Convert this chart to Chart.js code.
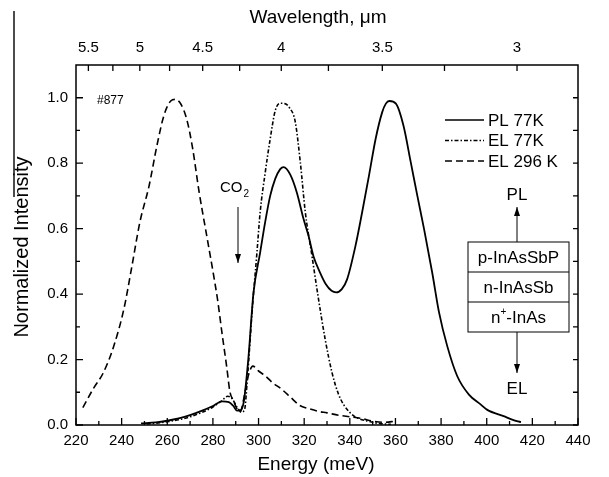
<!DOCTYPE html>
<html><head><meta charset="utf-8">
<script src="https://cdn.jsdelivr.net/npm/chart.js@4/dist/chart.umd.min.js"></script>
<style>html,body{margin:0;padding:0;background:#fff;}#wrap{width:609px;height:477px;position:relative;}</style>
</head><body><div id="wrap"><canvas id="c" width="609" height="477"></canvas></div>
<script>
// ---- data ----
const plEnergy = [248.5,255,260,265,270,275,280,284,287,289,290.5,292,293.5,295.5,297.8,300.7,302.9,305.1,307.3,309.5,311,313.9,316.8,319.7,321.9,324.1,327,329.5,332,334,336.5,338.8,342.5,345.4,348.4,351.3,354.2,355.8,357.3,360.2,363.5,366.7,369.6,372.5,376.1,379.1,382.7,387.1,392.2,397.3,400.1,407.4,413.2,415];
const plIntensity = [0.005,0.008,0.013,0.02,0.03,0.043,0.058,0.072,0.07,0.058,0.044,0.045,0.07,0.2,0.405,0.527,0.62,0.70,0.752,0.782,0.788,0.765,0.71,0.63,0.578,0.515,0.465,0.43,0.41,0.405,0.415,0.445,0.548,0.65,0.762,0.874,0.956,0.982,0.99,0.982,0.915,0.803,0.70,0.60,0.466,0.344,0.241,0.149,0.093,0.063,0.047,0.027,0.012,0.009];

const el77Energy = [251,255,260,265,270,275,280,284,286.5,288.5,290.5,292.5,293.8,295.2,297.1,299.3,300.7,302.9,305.1,307.3,309.5,311.5,313.5,316.1,318.3,320.5,323.4,326.3,329.2,332.2,335,337.5,341.9,347.8,353.5,358];
const el77Intensity = [0.003,0.005,0.01,0.016,0.025,0.038,0.055,0.075,0.088,0.08,0.055,0.04,0.045,0.15,0.34,0.527,0.65,0.77,0.874,0.96,0.983,0.982,0.97,0.926,0.803,0.65,0.517,0.384,0.262,0.16,0.095,0.06,0.027,0.012,0.004,0.002];

const el296Energy = [223,227.5,232,236.5,241,244.5,248,252,255.5,258.5,261.5,263.5,266,268.5,271,274,277.5,280,282,284,286,287.5,289,290.5,292,293.5,295.5,297.5,300,303,306,310,314,318,322,326,330,335,340,345,350,355,360];
const el296Intensity = [0.053,0.11,0.16,0.24,0.355,0.485,0.62,0.73,0.855,0.945,0.99,0.995,0.98,0.935,0.85,0.71,0.57,0.47,0.385,0.28,0.18,0.1,0.075,0.05,0.04,0.08,0.15,0.18,0.165,0.15,0.13,0.11,0.085,0.06,0.05,0.042,0.037,0.03,0.025,0.02,0.012,0.008,0.012];

const seriesNames = ['PL 77K','EL 77K','EL 296 K'];
const energyMajorTicks = [220,240,260,280,300,320,340,360,380,400,420,440];
const energyMinorTicks = [230,250,270,290,310,330,350,370,390,410,430];
const intensityMajorTicks = [0,0.2,0.4,0.6,0.8,1.0];
const intensityMinorTicks = [0.1,0.3,0.5,0.7,0.9];
const wavelengthMajorTicks = [5.5,5,4.5,4,3.5,3];
const wavelengthMajorLabels = ['5.5','5','4.5','4','3.5','3'];
const wavelengthMinorTicks = [5.25,4.75,4.25,3.75,3.25];
const layerNames = ['p-InAsSbP','n-InAsSb','InAs'];
const HC = 1239.84; // meV*um, converts wavelength to photon energy

const FONT = '"Liberation Sans", Arial, sans-serif';
const toPts = (xs, ys) => xs.map((x, i) => ({x: x, y: ys[i]}));
const styles = [
  {borderDash: [], borderWidth: 1.8},
  {borderDash: [4, 2, 1.5, 2], borderWidth: 1.6},
  {borderDash: [7, 4], borderWidth: 1.6}
];

const decor = {
  id: 'decor',
  afterDatasetsDraw(chart) {
    const ctx = chart.ctx;
    const a = chart.chartArea;
    const sx = chart.scales.x, sy = chart.scales.y, st = chart.scales.x2;
    ctx.save();
    ctx.strokeStyle = '#000';
    ctx.fillStyle = '#000';
    // frame
    ctx.lineWidth = 1.5;
    ctx.strokeRect(a.left, a.top, a.right - a.left, a.bottom - a.top);
    ctx.lineWidth = 1.3;
    ctx.beginPath();
    energyMajorTicks.forEach(v => { const p = sx.getPixelForValue(v); ctx.moveTo(p, a.bottom); ctx.lineTo(p, a.bottom - 7); });
    energyMinorTicks.forEach(v => { const p = sx.getPixelForValue(v); ctx.moveTo(p, a.bottom); ctx.lineTo(p, a.bottom - 4); });
    intensityMajorTicks.forEach(v => { const p = sy.getPixelForValue(v); ctx.moveTo(a.left, p); ctx.lineTo(a.left + 7, p); ctx.moveTo(a.right, p); ctx.lineTo(a.right - 5, p); });
    intensityMinorTicks.forEach(v => { const p = sy.getPixelForValue(v); ctx.moveTo(a.left, p); ctx.lineTo(a.left + 4, p); ctx.moveTo(a.right, p); ctx.lineTo(a.right - 5, p); });
    wavelengthMajorTicks.concat(wavelengthMinorTicks).forEach(l => { const p = st.getPixelForValue(HC / l); ctx.moveTo(p, a.top); ctx.lineTo(p, a.top + 6); });
    ctx.stroke();

    // legend
    ctx.font = '17px ' + FONT;
    ctx.textBaseline = 'middle';
    ctx.textAlign = 'left';
    chart.data.datasets.forEach((ds, i) => {
      const y = 120 + i * 20.5;
      ctx.save();
      ctx.lineWidth = 1.6;
      ctx.setLineDash(ds.borderDash || []);
      ctx.beginPath(); ctx.moveTo(445, y); ctx.lineTo(484, y); ctx.stroke();
      ctx.restore();
      ctx.fillText(ds.label, 488, y + 1);
    });

    // sample id
    ctx.font = '12px ' + FONT;
    ctx.fillText('#877', 97, 101);

    // CO2 label and arrow
    ctx.font = '15px ' + FONT;
    ctx.fillText('CO', 220, 188);
    const coW = ctx.measureText('CO').width;
    ctx.font = '10px ' + FONT;
    ctx.fillText('2', 220 + coW + 1, 194);
    const arrow = (x, y1, y2) => {
      ctx.lineWidth = 1;
      ctx.beginPath(); ctx.moveTo(x, y1); ctx.lineTo(x, y2); ctx.stroke();
      const d = y2 > y1 ? 1 : -1;
      ctx.beginPath(); ctx.moveTo(x, y2); ctx.lineTo(x - 3, y2 - d * 9); ctx.lineTo(x + 3, y2 - d * 9); ctx.closePath(); ctx.fill();
    };
    arrow(238, 207, 263);

    // layer stack inset
    const bx = 468, bw = 101, by = 242, rh = 30;
    ctx.lineWidth = 1;
    ctx.fillStyle = '#fff';
    ctx.fillRect(bx, by, bw, rh * 3);
    ctx.fillStyle = '#000';
    ctx.strokeRect(bx, by, bw, rh * 3);
    ctx.beginPath();
    ctx.moveTo(bx, by + rh); ctx.lineTo(bx + bw, by + rh);
    ctx.moveTo(bx, by + 2 * rh); ctx.lineTo(bx + bw, by + 2 * rh);
    ctx.stroke();
    ctx.font = '17px ' + FONT;
    ctx.textAlign = 'center';
    ctx.fillText(layerNames[0], bx + bw / 2, by + rh / 2 + 1);
    ctx.fillText('n-InAsSb', bx + bw / 2, by + rh * 1.5 + 1);
    // n+-InAs with superscript
    ctx.textAlign = 'left';
    const wN = ctx.measureText('n').width, wRest = ctx.measureText('-InAs').width;
    ctx.font = '10px ' + FONT;
    const wPlus = ctx.measureText('+').width;
    const start = bx + bw / 2 - (wN + wPlus + wRest) / 2;
    ctx.font = '17px ' + FONT;
    ctx.fillText('n', start, by + rh * 2.5 + 1);
    ctx.fillText('-InAs', start + wN + wPlus, by + rh * 2.5 + 1);
    ctx.font = '10px ' + FONT;
    ctx.fillText('+', start + wN, by + rh * 2.5 - 5);
    // PL / EL arrows
    arrow(517, by, 207);
    arrow(517, by + rh * 3, 373);
    ctx.font = '17px ' + FONT;
    ctx.textAlign = 'center';
    ctx.fillText('PL', 517, 195);
    ctx.fillText('EL', 517, 389);

    ctx.restore();
  },
  afterDraw(chart) {
    const ctx = chart.ctx;
    ctx.save();
    ctx.fillStyle = '#000';
    ctx.textAlign = 'center';
    ctx.textBaseline = 'middle';
    ctx.font = '19px ' + FONT;
    ctx.fillText('Energy (meV)', 316, 465);
    ctx.fillText('Wavelength, \u03bcm', 318, 18);
    ctx.translate(22, 247);
    ctx.rotate(-Math.PI / 2);
    ctx.font = '20px ' + FONT;
    ctx.fillText('Normalized Intensity', 0, 0);
    ctx.restore();
    // vertical stroke at the left edge of the scan
    ctx.save();
    ctx.strokeStyle = '#111';
    ctx.lineWidth = 1.5;
    ctx.beginPath(); ctx.moveTo(14, 11); ctx.lineTo(14, 197); ctx.stroke();
    ctx.restore();
  }
};

const tickFont = {family: FONT, size: 15};
new Chart(document.getElementById('c'), {
  type: 'line',
  data: {
    datasets: [
      {label: seriesNames[0], data: toPts(plEnergy, plIntensity)},
      {label: seriesNames[1], data: toPts(el77Energy, el77Intensity)},
      {label: seriesNames[2], data: toPts(el296Energy, el296Intensity)}
    ].map((d, i) => Object.assign(d, {
      borderColor: '#000', backgroundColor: '#000', pointRadius: 0,
      cubicInterpolationMode: 'monotone', fill: false
    }, styles[i]))
  },
  options: {
    responsive: false,
    animation: false,
    layout: {padding: {left: 0, right: 31, top: 0, bottom: 0}},
    plugins: {legend: {display: false}, tooltip: {enabled: false}},
    scales: {
      x: {
        type: 'linear', position: 'bottom', min: 220, max: 440,
        grid: {display: false, drawTicks: false}, border: {display: false},
        afterBuildTicks: s => { s.ticks = energyMajorTicks.map(v => ({value: v})); },
        ticks: {font: tickFont, color: '#000', padding: 7, autoSkip: false, maxRotation: 0, callback: v => String(v)},
        afterFit: s => { s.height = 52; }
      },
      x2: {
        type: 'linear', position: 'top', min: 220, max: 440,
        grid: {display: false, drawTicks: false}, border: {display: false},
        afterBuildTicks: s => { s.ticks = wavelengthMajorTicks.map(l => ({value: HC / l})); },
        ticks: {font: tickFont, color: '#000', padding: 8, autoSkip: false, maxRotation: 0,
          callback: (v, i) => wavelengthMajorLabels[i]},
        afterFit: s => { s.height = 65; }
      },
      y: {
        type: 'linear', position: 'left', min: 0, max: 1.1,
        grid: {display: false, drawTicks: false}, border: {display: false},
        afterBuildTicks: s => { s.ticks = intensityMajorTicks.map(v => ({value: v})); },
        ticks: {font: tickFont, color: '#000', padding: 8, autoSkip: false, callback: v => v.toFixed(1)},
        afterFit: s => { s.width = 76; }
      }
    }
  },
  plugins: [decor]
});
</script>
</body></html>
